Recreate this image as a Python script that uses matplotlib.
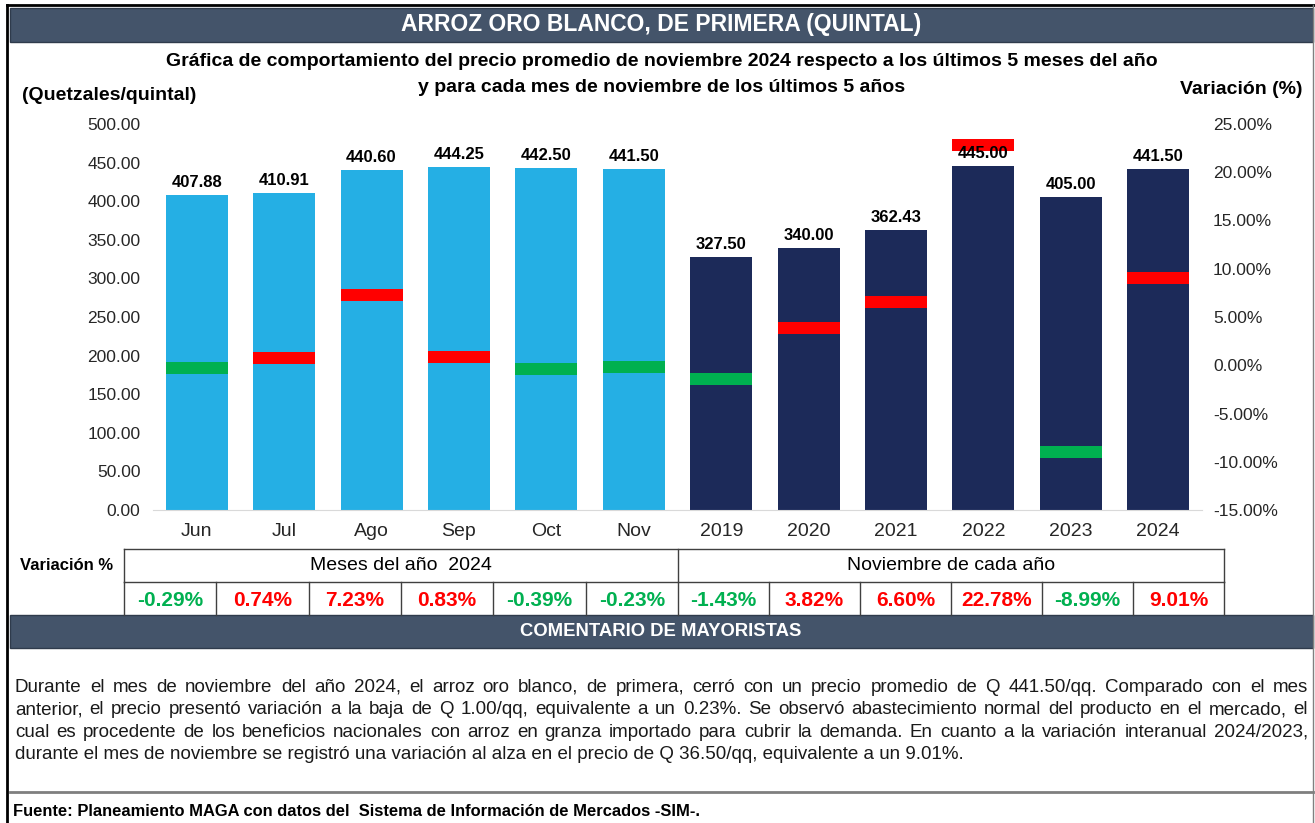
import matplotlib
matplotlib.use("Agg")
import matplotlib.pyplot as plt
from matplotlib.lines import Line2D
from matplotlib.patches import Rectangle
from matplotlib.ticker import FuncFormatter
import numpy as np

plt.rcParams["font.family"] = ["Liberation Sans", "DejaVu Sans"]

# data
categories = ["Jun", "Jul", "Ago", "Sep", "Oct", "Nov",
              "2019", "2020", "2021", "2022", "2023", "2024"]
month_prices = [407.88, 410.91, 440.60, 444.25, 442.50, 441.50]
year_prices = [327.50, 340.00, 362.43, 445.00, 405.00, 441.50]
month_var = [-0.29, 0.74, 7.23, 0.83, -0.39, -0.23]
year_var = [-1.43, 3.82, 6.60, 22.78, -8.99, 9.01]
group_labels = ["Meses del año  2024", "Noviembre de cada año"]

title = "ARROZ ORO BLANCO, DE PRIMERA (QUINTAL)"
subtitle = ["Gráfica de comportamiento del precio promedio de noviembre 2024 respecto a los últimos 5 meses del año",
            "y para cada mes de noviembre de los últimos 5 años"]
comment = [
    "Durante el mes de noviembre del año 2024, el arroz oro blanco, de primera, cerró con un precio promedio de Q 441.50/qq. Comparado con el mes",
    "anterior, el precio presentó variación a la baja de Q 1.00/qq, equivalente a un 0.23%. Se observó abastecimiento normal del producto en el mercado, el",
    "cual es procedente de los beneficios nacionales con arroz en granza importado para cubrir la demanda. En cuanto a la variación interanual 2024/2023,",
    "durante el mes de noviembre se registró una variación al alza en el precio de Q 36.50/qq, equivalente a un 9.01%.",
]
source = "Fuente: Planeamiento MAGA con datos del  Sistema de Información de Mercados -SIM-."

LIGHT = "#25AFE4"
DARK = "#1C2A59"
RED = "#FF0000"
GREEN = "#00B050"
HEAD = "#44546A"

W, H = 1315, 823
fig = plt.figure(figsize=(W / 100, H / 100), dpi=100)


def fx(x):
    return x / W


def fy(y):
    return 1 - y / H


def line(x0, y0, x1, y1, color="#404040", lw=1.0):
    fig.add_artist(Line2D([fx(x0), fx(x1)], [fy(y0), fy(y1)], color=color, lw=lw,
                          transform=fig.transFigure))


def box(x0, y0, x1, y1, color):
    fig.add_artist(Rectangle((fx(x0), fy(y1)), fx(x1) - fx(x0), fy(y0) - fy(y1),
                             facecolor=color, edgecolor="#2F3B4C", lw=1.0,
                             transform=fig.transFigure))


# frame and header bars
line(7, 5, 7, 823, color="black", lw=2)
line(7, 5, 1315, 5, color="black", lw=2)
line(1313, 5, 1313, 823, color="#808080", lw=1)
box(10, 8, 1313, 42, HEAD)
fig.text(fx(661), fy(25), title, color="white", fontsize=16.5, fontweight="bold",
         ha="center", va="center")
fig.text(fx(662), fy(62), subtitle[0], fontsize=14, fontweight="bold", ha="center", va="center")
fig.text(fx(662), fy(88), subtitle[1], fontsize=14, fontweight="bold", ha="center", va="center")
fig.text(fx(22), fy(95), "(Quetzales/quintal)", fontsize=14, fontweight="bold", va="center")
fig.text(fx(1303), fy(90), "Variación (%)", fontsize=14, fontweight="bold", ha="right", va="center")

# chart
ax = fig.add_axes([fx(153), fy(510), fx(1202) - fx(153), fy(124) - fy(510)])
x = np.arange(len(categories))
prices = month_prices + year_prices
bar_colors = [LIGHT] * len(month_prices) + [DARK] * len(year_prices)
ax.bar(x, prices, width=0.71, color=bar_colors, zorder=2)
ax.set_xlim(-0.5, len(categories) - 0.5)
ax.set_ylim(0, 500)
ax.set_yticks(np.arange(0, 501, 50))
ax.yaxis.set_major_formatter(FuncFormatter(lambda v, _: f"{v:.2f}"))
ax.set_xticks(x)
ax.set_xticklabels(categories)
ax.tick_params(axis="y", length=0, pad=9, labelsize=12.5, labelcolor="#262626")
ax.tick_params(axis="x", length=0, pad=9, labelsize=14, labelcolor="#262626")
for s in ["top", "left", "right"]:
    ax.spines[s].set_visible(False)
ax.spines["bottom"].set_color("#D9D9D9")

variations = month_var + year_var
ax2 = ax.twinx()
ax2.set_ylim(-15, 25)
ax2.set_yticks(np.arange(-15, 26, 5))
ax2.yaxis.set_major_formatter(FuncFormatter(lambda v, _: f"{v:.2f}%"))
ax2.tick_params(axis="y", length=0, pad=8, labelsize=12.5, labelcolor="#262626")
for s in ax2.spines.values():
    s.set_visible(False)
mark_colors = [GREEN if v < 0 else RED for v in variations]
ax2.bar(x, [1.24] * len(variations), bottom=np.array(variations) - 0.62,
        width=0.71, color=mark_colors, zorder=3)

# price labels on top of everything
for xi, p in zip(x, prices):
    ax2.annotate(f"{p:.2f}", (xi, p), xycoords=ax.transData, xytext=(0, 9),
                 textcoords="offset points", ha="center", va="center",
                 fontsize=12, fontweight="bold", zorder=5)

# variation table
left_edges = np.linspace(124, 678, len(month_var) + 1)
right_edges = np.linspace(678, 1224, len(year_var) + 1)
edges = np.concatenate([left_edges, right_edges[1:]])
top, mid, bot = 549, 582, 615
line(edges[0], top, edges[-1], top)
line(edges[0], mid, edges[-1], mid)
for e in edges:
    line(e, mid, e, bot)
for e in [edges[0], 678, edges[-1]]:
    line(e, top, e, mid)
fig.text(fx(20), fy(566), "Variación %", fontsize=12, fontweight="bold", va="center")
fig.text(fx((124 + 678) / 2), fy(566), group_labels[0], fontsize=14, ha="center", va="center")
fig.text(fx((678 + 1224) / 2), fy(566), group_labels[1], fontsize=14, ha="center", va="center")
for i, v in enumerate(variations):
    cx = (edges[i] + edges[i + 1]) / 2
    fig.text(fx(cx), fy(600), f"{v:.2f}%", fontsize=15, fontweight="bold",
             color=GREEN if v < 0 else RED, ha="center", va="center")

# comment block
box(10, 615, 1313, 648, HEAD)
fig.text(fx(661), fy(632), "COMENTARIO DE MAYORISTAS", color="white", fontsize=13.3,
         fontweight="bold", ha="center", va="center")

renderer = fig.canvas.get_renderer()


def justified(y, text, x0, x1, size, justify=True):
    kw = dict(fontsize=size, va="baseline", color="#1A1A1A")
    if not justify:
        fig.text(fx(x0), fy(y), text, **kw)
        return
    words = text.split(" ")
    items = [fig.text(0, fy(y), w, **kw) for w in words]
    widths = [t.get_window_extent(renderer).width for t in items]
    gap = (x1 - x0 - sum(widths)) / (len(words) - 1)
    pos = x0
    for t, wd in zip(items, widths):
        t.set_x(fx(pos))
        pos += wd + gap


for k, ln in enumerate(comment):
    justified(692 + k * 22.4, ln, 15, 1308, 13.5, justify=k < len(comment) - 1)

line(10, 792, 1313, 792, color="#7F7F7F", lw=2)
fig.text(fx(13), fy(811), source, fontsize=11.9, fontweight="bold", va="center")

fig.savefig("out.png", dpi=100)
